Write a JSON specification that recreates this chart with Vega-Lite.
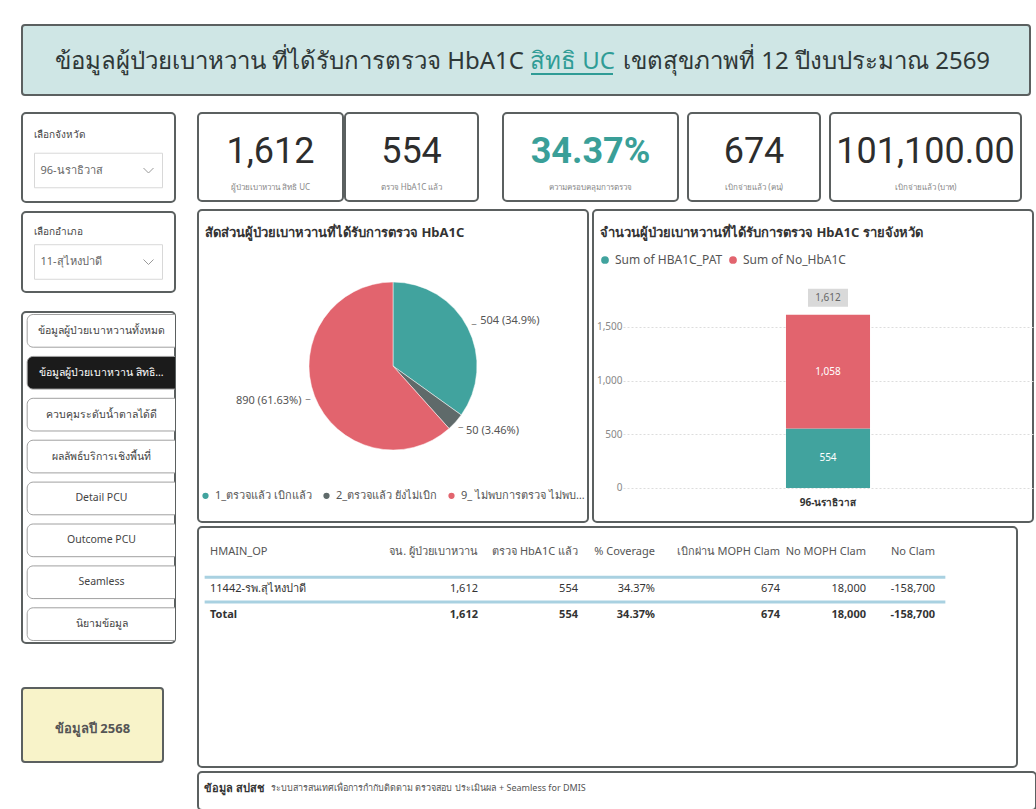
{
  "$schema": "https://vega.github.io/schema/vega-lite/v6.json",
  "padding": {"left": 21, "top": 24, "right": 0, "bottom": 0},
  "background": "white",
  "config": {
    "font": "Noto Sans",
    "view": {"stroke": "#5b6060", "strokeWidth": 2, "cornerRadius": 4},
    "title": {"anchor": "start", "frame": "group", "color": "#333333", "fontWeight": "bold"},
    "text": {"font": "Noto Sans"}
  },
  "datasets": {
    "kpi": [
      {"measure": "patients", "value": 1612, "caption": "ผู้ป่วยเบาหวาน สิทธิ UC"},
      {"measure": "tested", "value": 554, "caption": "ตรวจ HbA1C แล้ว"},
      {"measure": "coverage", "value": 0.3437, "caption": "ความครอบคลุมการตรวจ"},
      {"measure": "claimed_people", "value": 674, "caption": "เบิกจ่ายแล้ว (คน)"},
      {"measure": "claimed_baht", "value": 101100, "caption": "เบิกจ่ายแล้ว (บาท)"}
    ],
    "pie": [
      {"status": "1_ตรวจแล้ว เบิกแล้ว", "count": 504, "label": "504 (34.9%)"},
      {"status": "2_ตรวจแล้ว ยังไม่เบิก", "count": 50, "label": "50 (3.46%)"},
      {"status": "9_ ไม่พบการตรวจ ไม่พบการเบิก", "count": 890, "label": "890 (61.63%)"}
    ],
    "bar": [
      {"province": "96-นราธิวาส", "measure": "Sum of HBA1C_PAT", "value": 554},
      {"province": "96-นราธิวาส", "measure": "Sum of No_HbA1C", "value": 1058}
    ],
    "table": [
      {"row": 0, "col": 0, "text": "HMAIN_OP"},
      {"row": 0, "col": 1, "text": "จน. ผู้ป่วยเบาหวาน"},
      {"row": 0, "col": 2, "text": "ตรวจ HbA1C แล้ว"},
      {"row": 0, "col": 3, "text": "% Coverage"},
      {"row": 0, "col": 4, "text": "เบิกผ่าน MOPH Clam"},
      {"row": 0, "col": 5, "text": "No MOPH Clam"},
      {"row": 0, "col": 6, "text": "No Clam"},
      {"row": 1, "col": 0, "text": "11442-รพ.สุไหงปาดี"},
      {"row": 1, "col": 1, "text": "1,612"},
      {"row": 1, "col": 2, "text": "554"},
      {"row": 1, "col": 3, "text": "34.37%"},
      {"row": 1, "col": 4, "text": "674"},
      {"row": 1, "col": 5, "text": "18,000"},
      {"row": 1, "col": 6, "text": "-158,700"},
      {"row": 2, "col": 0, "text": "Total"},
      {"row": 2, "col": 1, "text": "1,612"},
      {"row": 2, "col": 2, "text": "554"},
      {"row": 2, "col": 3, "text": "34.37%"},
      {"row": 2, "col": 4, "text": "674"},
      {"row": 2, "col": 5, "text": "18,000"},
      {"row": 2, "col": 6, "text": "-158,700"}
    ],
    "nav": [
      {"button": "ข้อมูลผู้ป่วยเบาหวานทั้งหมด"},
      {"button": "ข้อมูลผู้ป่วยเบาหวาน สิทธิ..."},
      {"button": "ควบคุมระดับน้ำตาลได้ดี"},
      {"button": "ผลลัพธ์บริการเชิงพื้นที่"},
      {"button": "Detail PCU"},
      {"button": "Outcome PCU"},
      {"button": "Seamless"},
      {"button": "นิยามข้อมูล"}
    ]
  },
  "bounds": "full",
  "spacing": 16,
  "vconcat": [
    {
      "width": 1008, "height": 70,
      "view": {"fill": "#cfe6e5", "stroke": "#5b6060", "strokeWidth": 2, "cornerRadius": 3},
      "data": {"values": [{"a": "ข้อมูลผู้ป่วยเบาหวาน ที่ได้รับการตรวจ HbA1C", "b": "สิทธิ UC", "c": "เขตสุขภาพที่ 12 ปีงบประมาณ 2569"}]},
      "layer": [
        {"mark": {"type": "text", "align": "right", "baseline": "alphabetic", "dx": -2, "dy": 9, "fontSize": 24, "color": "#2f3838"}, "encoding": {"text": {"field": "a"}}},
        {"mark": {"type": "text", "align": "left", "baseline": "alphabetic", "dx": 4, "dy": 9, "fontSize": 24, "color": "#2f9c96"}, "encoding": {"text": {"field": "b"}}},
        {"mark": {"type": "point", "shape": "M -1 0 H 1", "size": 6724, "filled": false, "stroke": "#2f9c96", "strokeWidth": 2, "opacity": 1, "xOffset": 46, "yOffset": 14}, "encoding": {}},
        {"mark": {"type": "text", "align": "left", "baseline": "alphabetic", "dx": 97, "dy": 9, "fontSize": 24, "color": "#2f3838"}, "encoding": {"text": {"field": "c"}}}
      ]
    },
    {
      "bounds": "full",
      "spacing": 21,
      "hconcat": [
        {
          "bounds": "full",
          "spacing": 43,
          "vconcat": [
            {
              "bounds": "full",
              "spacing": 18,
              "vconcat": [
                {
                  "bounds": "flush",
                  "spacing": 10,
                  "vconcat": [
                    {
                      "width": 153, "height": 89,
                      "view": {"stroke": "#5b6060", "strokeWidth": 2, "cornerRadius": 4},
                      "data": {"values": [{"value": "96-นราธิวาส"}]},
                      "title": {"text": "เลือกจังหวัด", "offset": -27, "dx": 12, "fontSize": 10, "fontWeight": "normal", "color": "#444444"},
                      "layer": [
                        {"mark": {"type": "point", "shape": "M -1 -0.27 H 1 V 0.27 H -1 Z", "size": 16384, "filled": true, "fill": "white", "stroke": "#d8d8d8", "strokeWidth": 1, "opacity": 1, "yOffset": 13}, "encoding": {}},
                        {"mark": {"type": "text", "align": "left", "dx": -58, "dy": 13, "fontSize": 11, "color": "#666666"}, "encoding": {"text": {"field": "value"}}},
                        {"mark": {"type": "point", "shape": "M -1 -0.5 L 0 0.5 L 1 -0.5", "size": 100, "filled": false, "stroke": "#9a9a9a", "strokeWidth": 1, "opacity": 1, "xOffset": 50, "yOffset": 13}, "encoding": {}}
                      ]
                    },
                    {
                      "width": 153, "height": 80,
                      "view": {"stroke": "#5b6060", "strokeWidth": 2, "cornerRadius": 4},
                      "data": {"values": [{"value": "11-สุไหงปาดี"}]},
                      "title": {"text": "เลือกอำเภอ", "offset": -25, "dx": 12, "fontSize": 10, "fontWeight": "normal", "color": "#444444"},
                      "layer": [
                        {"mark": {"type": "point", "shape": "M -1 -0.27 H 1 V 0.27 H -1 Z", "size": 16384, "filled": true, "fill": "white", "stroke": "#d8d8d8", "strokeWidth": 1, "opacity": 1, "yOffset": 10}, "encoding": {}},
                        {"mark": {"type": "text", "align": "left", "dx": -58, "dy": 10, "fontSize": 11, "color": "#666666"}, "encoding": {"text": {"field": "value"}}},
                        {"mark": {"type": "point", "shape": "M -1 -0.5 L 0 0.5 L 1 -0.5", "size": 100, "filled": false, "stroke": "#9a9a9a", "strokeWidth": 1, "opacity": 1, "xOffset": 50, "yOffset": 10}, "encoding": {}}
                      ]
                    }
                  ]
                },
                {
                  "width": 153, "height": 331,
                  "view": {"stroke": "#5b6060", "strokeWidth": 2, "cornerRadius": 4},
                  "data": {"name": "nav"},
                  "encoding": {
                    "y": {"field": "button", "type": "nominal", "sort": null, "axis": null, "scale": {"paddingInner": 0.22, "paddingOuter": 0.06}}
                  },
                  "layer": [
                    {
                      "mark": {"type": "bar", "cornerRadius": 6, "stroke": "#a0a0a0", "strokeWidth": 1, "clip": true},
                      "encoding": {
                        "x": {"datum": 0, "type": "quantitative", "scale": {"domain": [-0.035, 1], "nice": false, "zero": false}, "axis": null},
                        "x2": {"datum": 1.05},
                        "color": {"condition": {"test": "datum.button === 'ข้อมูลผู้ป่วยเบาหวาน สิทธิ...'", "value": "#1b1b1b"}, "value": "white"}
                      }
                    },
                    {
                      "mark": {"type": "text", "fontSize": 10.5, "dx": 3, "clip": true},
                      "encoding": {
                        "text": {"field": "button"},
                        "color": {"condition": {"test": "datum.button === 'ข้อมูลผู้ป่วยเบาหวาน สิทธิ...'", "value": "white"}, "value": "#444444"}
                      }
                    }
                  ]
                }
              ]
            },
            {
              "width": 141, "height": 74,
              "view": {"fill": "#f8f3c9", "stroke": "#5b6060", "strokeWidth": 2, "cornerRadius": 3},
              "data": {"values": [{"label": "ข้อมูลปี 2568"}]},
              "mark": {"type": "text", "fontSize": 13, "fontWeight": "bold", "color": "#555555", "dy": 4},
              "encoding": {"text": {"field": "label"}}
            }
          ]
        },
        {
          "bounds": "full",
          "spacing": 3,
          "vconcat": [
            {
              "bounds": "full",
              "spacing": 7,
              "vconcat": [
                {
                  "bounds": "full",
                  "spacing": 23,
                  "hconcat": [
                    {
                      "bounds": "flush",
                      "spacing": 2,
                      "hconcat": [
                        {
                          "width": 145, "height": 88,
                          "view": {"stroke": "#5b6060", "strokeWidth": 2, "cornerRadius": 4},
                          "data": {"name": "kpi"},
                          "transform": [{"filter": "datum.measure === 'patients'"}],
                          "layer": [
                            {"mark": {"type": "text", "fontSize": 36, "font": "Roboto", "color": "#2d2d2d", "dy": -5}, "encoding": {"text": {"field": "value", "type": "quantitative", "format": ","}}},
                            {"mark": {"type": "text", "fontSize": 8, "color": "#888888", "dy": 31}, "encoding": {"text": {"field": "caption"}}}
                          ]
                        },
                        {
                          "width": 133, "height": 88,
                          "view": {"stroke": "#5b6060", "strokeWidth": 2, "cornerRadius": 4},
                          "data": {"name": "kpi"},
                          "transform": [{"filter": "datum.measure === 'tested'"}],
                          "layer": [
                            {"mark": {"type": "text", "fontSize": 36, "font": "Roboto", "color": "#2d2d2d", "dy": -5}, "encoding": {"text": {"field": "value", "type": "quantitative", "format": ","}}},
                            {"mark": {"type": "text", "fontSize": 8, "color": "#888888", "dy": 31}, "encoding": {"text": {"field": "caption"}}}
                          ]
                        }
                      ]
                    },
                    {
                      "bounds": "flush",
                      "spacing": 10,
                      "hconcat": [
                        {
                          "width": 175, "height": 88,
                          "view": {"stroke": "#5b6060", "strokeWidth": 2, "cornerRadius": 4},
                          "data": {"name": "kpi"},
                          "transform": [{"filter": "datum.measure === 'coverage'"}],
                          "layer": [
                            {"mark": {"type": "text", "fontSize": 36, "font": "Roboto", "fontWeight": "bold", "color": "#3a9f98", "dy": -5}, "encoding": {"text": {"field": "value", "type": "quantitative", "format": ".2%"}}},
                            {"mark": {"type": "text", "fontSize": 8, "color": "#888888", "dy": 31}, "encoding": {"text": {"field": "caption"}}}
                          ]
                        },
                        {
                          "width": 132, "height": 88,
                          "view": {"stroke": "#5b6060", "strokeWidth": 2, "cornerRadius": 4},
                          "data": {"name": "kpi"},
                          "transform": [{"filter": "datum.measure === 'claimed_people'"}],
                          "layer": [
                            {"mark": {"type": "text", "fontSize": 36, "font": "Roboto", "color": "#2d2d2d", "dy": -5}, "encoding": {"text": {"field": "value", "type": "quantitative", "format": ","}}},
                            {"mark": {"type": "text", "fontSize": 8, "color": "#888888", "dy": 31}, "encoding": {"text": {"field": "caption"}}}
                          ]
                        },
                        {
                          "width": 191, "height": 88,
                          "view": {"stroke": "#5b6060", "strokeWidth": 2, "cornerRadius": 4},
                          "data": {"name": "kpi"},
                          "transform": [{"filter": "datum.measure === 'claimed_baht'"}],
                          "layer": [
                            {"mark": {"type": "text", "fontSize": 36, "font": "Roboto", "color": "#2d2d2d", "dy": -5}, "encoding": {"text": {"field": "value", "type": "quantitative", "format": ",.2f"}}},
                            {"mark": {"type": "text", "fontSize": 8, "color": "#888888", "dy": 31}, "encoding": {"text": {"field": "caption"}}}
                          ]
                        }
                      ]
                    }
                  ]
                },
                {
                  "bounds": "flush",
                  "spacing": 5,
                  "resolve": {"scale": {"color": "independent"}, "legend": {"color": "independent"}},
                  "hconcat": [
                    {
                      "width": 390, "height": 312,
                      "view": {"stroke": "#5b6060", "strokeWidth": 2, "cornerRadius": 4},
                      "data": {"name": "pie"},
                      "title": {"text": "สัดส่วนผู้ป่วยเบาหวานที่ได้รับการตรวจ HbA1C", "offset": -30, "dx": 7, "fontSize": 13},
                      "encoding": {
                        "theta": {"field": "count", "type": "quantitative", "stack": true},
                        "order": {"field": "status", "sort": "ascending"},
                        "color": {
                          "field": "status", "type": "nominal",
                          "scale": {"domain": ["1_ตรวจแล้ว เบิกแล้ว", "2_ตรวจแล้ว ยังไม่เบิก", "9_ ไม่พบการตรวจ ไม่พบการเบิก"], "range": ["#41a39e", "#5f6a6a", "#e2646e"]},
                          "legend": {"orient": "none", "legendX": 2, "legendY": 280, "direction": "horizontal", "title": null, "symbolType": "circle", "symbolSize": 60, "labelFontSize": 11, "labelColor": "#555555", "labelLimit": 125, "columnPadding": 6}
                        }
                      },
                      "layer": [
                        {"mark": {"type": "arc", "outerRadius": 84, "stroke": "white", "strokeWidth": 0.5}},
                        {"mark": {"type": "text", "text": "–", "radius": 91, "fontSize": 11}, "encoding": {"detail": {"field": "status", "type": "nominal"}, "color": {"value": "#888888"}}},
                        {"mark": {"type": "text", "radius": 98, "fontSize": 11, "align": {"expr": "datum.status < '9' ? 'left' : 'right'"}}, "encoding": {"detail": {"field": "status", "type": "nominal"}, "text": {"field": "label"}, "color": {"value": "#555555"}}}
                      ]
                    },
                    {
                      "width": 440, "height": 312,
                      "view": {"stroke": "#5b6060", "strokeWidth": 2, "cornerRadius": 4},
                      "data": {"name": "bar"},
                      "title": {"text": "จำนวนผู้ป่วยเบาหวานที่ได้รับการตรวจ HbA1C รายจังหวัด", "offset": -30, "dx": 7, "fontSize": 13},
                      "encoding": {
                        "x": {"field": "province", "type": "nominal", "scale": {"range": [30, 440], "paddingInner": 0, "paddingOuter": 1}, "axis": {"orient": "bottom", "offset": -27, "title": null, "domain": false, "ticks": false, "labelAngle": 0, "labelFontSize": 10, "labelColor": "#333333", "labelFontWeight": "bold", "labelPadding": 2}}
                      },
                      "layer": [
                        {
                          "mark": {"type": "bar", "width": {"band": 0.615}},
                          "encoding": {
                            "y": {"field": "value", "type": "quantitative", "stack": "zero", "scale": {"domain": [-317, 2588], "nice": false, "zero": false}, "axis": {"values": [0, 500, 1000, 1500], "format": ",.0f", "offset": -33, "domain": false, "ticks": false, "title": null, "grid": true, "gridDash": [2, 2], "gridColor": "#dddddd", "labelColor": "#888888", "labelFontSize": 10, "labelPadding": 4}},
                            "order": {"field": "measure", "sort": "ascending"},
                            "color": {"field": "measure", "type": "nominal", "scale": {"domain": ["Sum of HBA1C_PAT", "Sum of No_HbA1C"], "range": ["#41a39e", "#e2646e"]}, "legend": {"orient": "none", "legendX": 6, "legendY": 44, "direction": "horizontal", "title": null, "symbolType": "circle", "symbolSize": 60, "labelFontSize": 12, "labelColor": "#555555", "columnPadding": 4}}
                          }
                        },
                        {
                          "mark": {"type": "text", "fontSize": 10, "color": "white"},
                          "encoding": {
                            "y": {"field": "value", "type": "quantitative", "stack": "zero", "bandPosition": 0.5, "axis": {"values": [0, 500, 1000, 1500], "format": ",.0f", "offset": -33, "domain": false, "ticks": false, "title": null, "grid": true, "gridDash": [2, 2], "gridColor": "#dddddd", "labelColor": "#888888", "labelFontSize": 10, "labelPadding": 4}},
                            "order": {"field": "measure", "sort": "ascending"},
                            "detail": {"field": "measure", "type": "nominal"},
                            "text": {"field": "value", "type": "quantitative", "format": ","}
                          }
                        },
                        {
                          "mark": {"type": "point", "shape": "M -1 -0.45 H 1 V 0.45 H -1 Z", "size": 1600, "filled": true, "fill": "#d9d9d9", "opacity": 1, "yOffset": -17},
                          "encoding": {"y": {"aggregate": "sum", "field": "value", "type": "quantitative", "axis": {"values": [0, 500, 1000, 1500], "format": ",.0f", "offset": -33, "domain": false, "ticks": false, "title": null, "grid": true, "gridDash": [2, 2], "gridColor": "#dddddd", "labelColor": "#888888", "labelFontSize": 10, "labelPadding": 4}}}
                        },
                        {
                          "mark": {"type": "text", "fontSize": 10, "color": "#666666", "dy": -17},
                          "encoding": {
                            "y": {"aggregate": "sum", "field": "value", "type": "quantitative", "axis": {"values": [0, 500, 1000, 1500], "format": ",.0f", "offset": -33, "domain": false, "ticks": false, "title": null, "grid": true, "gridDash": [2, 2], "gridColor": "#dddddd", "labelColor": "#888888", "labelFontSize": 10, "labelPadding": 4}},
                            "text": {"aggregate": "sum", "field": "value", "type": "quantitative", "format": ","}
                          }
                        }
                      ]
                    }
                  ]
                }
              ]
            },
            {
              "width": 819, "height": 240,
              "view": {"stroke": "#5b6060", "strokeWidth": 2, "cornerRadius": 4},
              "data": {"name": "table"},
              "encoding": {
                "x": {"field": "col", "type": "quantitative", "scale": {"domain": [0, 1, 2, 3, 4, 5, 6], "range": [12, 280, 380, 457, 582, 668, 737], "nice": false, "zero": false}, "axis": null},
                "y": {"field": "row", "type": "quantitative", "scale": {"domain": [0, 1, 2], "range": [25, 62, 88], "nice": false, "zero": false}, "axis": null}
              },
              "layer": [
                {
                  "transform": [{"filter": "datum.row === 0 && datum.col === 0"}],
                  "mark": {"type": "rule", "color": "#a9d1e1", "strokeWidth": 3},
                  "encoding": {"x": {"datum": -0.02}, "x2": {"datum": 6.15}, "y": {"datum": 0.68}}
                },
                {
                  "transform": [{"filter": "datum.row === 0 && datum.col === 0"}],
                  "mark": {"type": "rule", "color": "#a9d1e1", "strokeWidth": 3},
                  "encoding": {"x": {"datum": -0.02}, "x2": {"datum": 6.15}, "y": {"datum": 1.5}}
                },
                {
                  "mark": {
                    "type": "text", "fontSize": 11,
                    "align": {"expr": "datum.col === 0 ? 'left' : 'right'"},
                    "fontWeight": {"expr": "datum.row === 2 ? 'bold' : 'normal'"}
                  },
                  "encoding": {
                    "text": {"field": "text"},
                    "color": {"condition": {"test": "datum.row === 0", "value": "#555555"}, "value": "#333333"}
                  }
                }
              ]
            },
            {
              "width": 838, "height": 38,
              "view": {"stroke": "#5b6060", "strokeWidth": 2, "cornerRadius": 4},
              "data": {"values": [{"source": "ข้อมูล สปสช", "desc": "ระบบสารสนเทศเพื่อการกำกับติดตาม ตรวจสอบ ประเมินผล + Seamless for DMIS"}]},
              "title": {"text": "ข้อมูล สปสช", "offset": -22, "dx": 6, "fontSize": 11},
              "mark": {"type": "text", "align": "left", "dx": -346, "dy": -3, "fontSize": 9, "color": "#555555"},
              "encoding": {"text": {"field": "desc"}}
            }
          ]
        }
      ]
    }
  ]
}
